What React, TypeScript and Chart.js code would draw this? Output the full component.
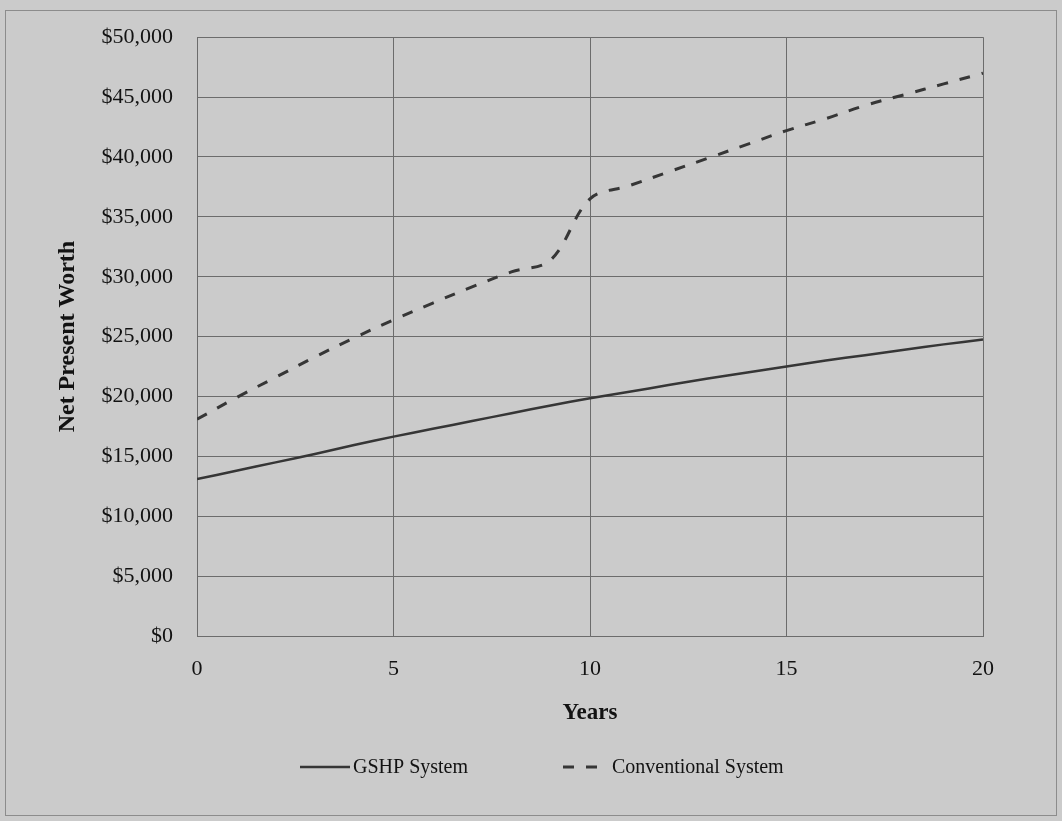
import React, { useEffect, useRef } from "react";
import { Chart, registerables } from "chart.js";

Chart.register(...registerables);

// Years of the analysis period
const years = [0, 1, 2, 3, 4, 5, 6, 7, 8, 9, 10, 11, 12, 13, 14, 15, 16, 17, 18, 19, 20];

// Net present worth, in dollars, for each year
const gshpSystem = [
  13100, 13800, 14500, 15200, 15950, 16650, 17300, 17950, 18600, 19250, 19850,
  20400, 20950, 21500, 22000, 22500, 23000, 23450, 23900, 24350, 24750,
];
const conventionalSystem = [
  18100, 19900, 21600, 23300, 24900, 26400, 27800, 29150, 30400, 31400, 36500,
  37600, 38750, 39900, 41050, 42200, 43200, 44300, 45200, 46100, 47000,
];

const seriesNames = ["GSHP System", "Conventional System"];
const xTickValues = [0, 5, 10, 15, 20];
const yTickValues = [0, 5000, 10000, 15000, 20000, 25000, 30000, 35000, 40000, 45000, 50000];

const SERIF = "'Liberation Serif', 'Times New Roman', serif";
const INK = "#363636";
const GRID = "#6c6c6c";
const TEXT = "#121212";

// Legend drawn under the axis title: a line sample followed by the series name
const bottomLegend = {
  id: "bottomLegend",
  afterDraw(chart: any) {
    const { ctx } = chart;
    const y = chart.chartArea.bottom + 131;
    const items = [
      { x: 300, w: 50, gap: 3 },
      { x: 563, w: 34, gap: 15 },
    ];
    ctx.save();
    chart.data.datasets.forEach((ds: any, i: number) => {
      const it = items[i];
      ctx.strokeStyle = ds.borderColor;
      ctx.lineWidth = ds.borderWidth;
      ctx.setLineDash(ds.borderDash || []);
      ctx.beginPath();
      ctx.moveTo(it.x, y);
      ctx.lineTo(it.x + it.w, y);
      ctx.stroke();
      ctx.setLineDash([]);
      ctx.fillStyle = TEXT;
      ctx.font = `20px ${SERIF}`;
      ctx.textBaseline = "middle";
      ctx.textAlign = "left";
      ctx.fillText(ds.label, it.x + it.w + it.gap, y + 1);
    });
    ctx.restore();
  },
};

export default function App() {
  const canvasRef = useRef<HTMLCanvasElement | null>(null);

  useEffect(() => {
    if (!canvasRef.current) return;
    const chart = new Chart(canvasRef.current, {
      type: "line",
      data: {
        labels: years,
        datasets: [
          {
            label: seriesNames[0],
            data: years.map((x, i) => ({ x, y: gshpSystem[i] })),
            borderColor: INK,
            borderWidth: 2.5,
            pointRadius: 0,
            tension: 0.35,
            fill: false,
          },
          {
            label: seriesNames[1],
            data: years.map((x, i) => ({ x, y: conventionalSystem[i] })),
            borderColor: INK,
            borderWidth: 3,
            borderDash: [11, 12],
            pointRadius: 0,
            tension: 0.35,
            fill: false,
          },
        ],
      },
      plugins: [bottomLegend],
      options: {
        animation: false,
        responsive: false,
        events: [],
        layout: { padding: { top: 37, right: 79, left: 0, bottom: 93 } },
        plugins: {
          legend: { display: false },
          tooltip: { enabled: false },
        },
        scales: {
          x: {
            type: "linear",
            min: 0,
            max: 20,
            afterFit: (s: any) => {
              s.height = 92;
            },
            afterBuildTicks: (s: any) => {
              s.ticks = xTickValues.map((v) => ({ value: v }));
            },
            grid: { color: GRID, lineWidth: 1, drawTicks: false },
            border: { color: GRID, width: 1 },
            ticks: {
              padding: 20,
              color: TEXT,
              font: { family: SERIF, size: 22 },
              maxRotation: 0,
            },
            title: {
              display: true,
              text: "Years",
              color: TEXT,
              font: { family: SERIF, size: 23, weight: "bold" },
              padding: { top: 0, bottom: 1 },
            },
          },
          y: {
            min: 0,
            max: 50000,
            afterFit: (s: any) => {
              s.width = 197;
            },
            afterBuildTicks: (s: any) => {
              s.ticks = yTickValues.map((v) => ({ value: v }));
            },
            grid: { color: GRID, lineWidth: 1, drawTicks: false },
            border: { color: GRID, width: 1 },
            ticks: {
              padding: 24,
              color: TEXT,
              font: { family: SERIF, size: 22 },
              callback: (v: any) => "$" + Number(v).toLocaleString("en-US"),
            },
            title: {
              display: true,
              text: "Net Present Worth",
              color: TEXT,
              font: { family: SERIF, size: 24, weight: "bold" },
              padding: { top: 53, bottom: 0 },
            },
          },
        },
      },
    });
    return () => chart.destroy();
  }, []);

  return (
    <div
      style={{
        position: "fixed",
        left: 0,
        top: 0,
        width: 1062,
        height: 821,
        background: "#cbcbcb",
      }}
    >
      <div
        style={{
          position: "absolute",
          left: 5,
          top: 10,
          width: 1050,
          height: 804,
          border: "1px solid #8c8c8c",
        }}
      />
      <canvas
        ref={canvasRef}
        width={1062}
        height={821}
        style={{ position: "absolute", left: 0, top: 0, width: 1062, height: 821 }}
      />
    </div>
  );
}
